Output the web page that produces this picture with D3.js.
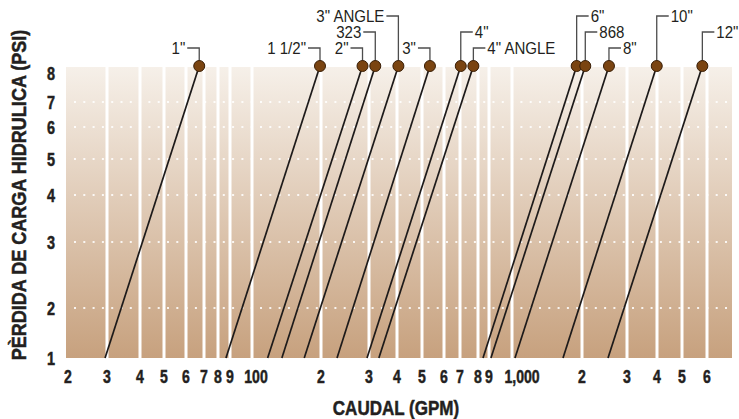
<!DOCTYPE html>
<html>
<head>
<meta charset="utf-8">
<script src="https://cdn.jsdelivr.net/npm/d3@7"></script>
<style>
  body { margin: 0; background: #fff; }
  text { font-family: "Liberation Sans", Arial, sans-serif; }
</style>
</head>
<body>
<div id="chart"></div>
<script>
// valve sizes and flow (GPM) read at 1 psi and 8 psi
var sizes = ['1"', '1 1/2"', '2"', '323', '3" ANGLE', '3"', '4"', '4" ANGLE', '6"', '868', '8"', '10"', '12"'];
var flowAt1 = [29.4, 86.5, 117, 135, 169, 229, 295, 332, 844, 908, 1030, 1657, 2528];
var flowAt8 = [67.2, 198, 284, 320, 405, 534, 704, 773, 1897, 2060, 2550, 3990, 5800];

var xTicks = [20, 30, 40, 50, 60, 70, 80, 90, 100, 200, 300, 400, 500, 600, 700, 800, 900, 1000, 2000, 3000, 4000, 5000, 6000];
var xTickLabels = ['2', '3', '4', '5', '6', '7', '8', '9', '100', '2', '3', '4', '5', '6', '7', '8', '9', '1,000', '2', '3', '4', '5', '6'];
var yTicks = [1, 2, 3, 4, 5, 6, 7, 8];

// label placement: tier (0 = highest) and side of the leader
var labelTier = [2, 2, 2, 1, 0, 2, 1, 2, 0, 1, 2, 0, 1];
var labelSide = ['l', 'l', 'l', 'l', 'l', 'l', 'r', 'r', 'r', 'r', 'r', 'r', 'r'];

var W = 739, H = 419;
var plot = { left: 66, right: 732, top: 67, bottom: 358 };
var ink = '#231f20';

var svg = d3.select('#chart').append('svg')
    .attr('width', W)
    .attr('height', H);

// squeeze text horizontally, no narrow font is available
function condense(sel, k) {
  sel.each(function() {
    var w = this.getComputedTextLength();
    d3.select(this).attr('textLength', w * k).attr('lengthAdjust', 'spacingAndGlyphs');
  });
}

// the printed axis is not a clean log scale, so it is mapped piece by piece
var x = d3.scaleLog()
    .domain(xTicks)
    .range([68, 107, 140, 164, 186, 204, 218, 230, 252, 321, 369, 397, 422, 444, 460, 478, 489, 512, 582, 627, 657, 682, 707]);

var y = d3.scaleLog()
    .domain(yTicks)
    .range([358, 308, 242, 195, 159, 127, 102, 66]);

var grad = svg.append('defs').append('linearGradient')
    .attr('id', 'bg')
    .attr('x1', 0).attr('y1', 0).attr('x2', 0).attr('y2', 1);
grad.append('stop').attr('offset', '0%').attr('stop-color', '#f6f0e9');
grad.append('stop').attr('offset', '100%').attr('stop-color', '#c7a17e');

svg.append('rect')
    .attr('x', plot.left)
    .attr('y', plot.top)
    .attr('width', plot.right - plot.left)
    .attr('height', plot.bottom - plot.top)
    .attr('fill', 'url(#bg)');

// dotted horizontal grid
svg.selectAll('line.hgrid').data(yTicks.slice(1, -1))
  .enter().append('line')
    .attr('class', 'hgrid')
    .attr('x1', plot.left + 8).attr('x2', plot.right)
    .attr('y1', function(d) { return y(d); })
    .attr('y2', function(d) { return y(d); })
    .attr('stroke', '#fff')
    .attr('stroke-opacity', 0.85)
    .attr('stroke-width', 2)
    .attr('stroke-dasharray', '2,7.3');

// white vertical grid
svg.selectAll('line.vgrid').data(xTicks.slice(1))
  .enter().append('line')
    .attr('class', 'vgrid')
    .attr('x1', function(d) { return x(d); })
    .attr('x2', function(d) { return x(d); })
    .attr('y1', plot.top).attr('y2', plot.bottom)
    .attr('stroke', '#fff')
    .attr('stroke-width', 3);

// x tick labels
var xLabelShift = { '100': 4, '1,000': 10 };
svg.selectAll('text.xt').data(xTicks)
  .enter().append('text')
    .attr('class', 'xt')
    .attr('x', function(d, i) { return x(d) + (xLabelShift[xTickLabels[i]] || 0); })
    .attr('y', 383)
    .attr('text-anchor', 'middle')
    .attr('font-size', 18.5)
    .attr('font-weight', 'bold')
    .attr('fill', ink)
    .attr('stroke', ink)
    .attr('stroke-width', 0.5)
    .text(function(d, i) { return xTickLabels[i]; })
    .call(condense, 0.76);

// y tick labels
svg.selectAll('text.yt').data(yTicks)
  .enter().append('text')
    .attr('class', 'yt')
    .attr('x', 55)
    .attr('y', function(d) { return Math.max(y(d), plot.top + 6); })
    .attr('dy', '0.36em')
    .attr('text-anchor', 'end')
    .attr('font-size', 18.5)
    .attr('font-weight', 'bold')
    .attr('fill', ink)
    .attr('stroke', ink)
    .attr('stroke-width', 0.5)
    .text(function(d) { return d; })
    .call(condense, 0.78);

// axis titles
svg.append('text')
    .attr('x', 396)
    .attr('y', 415)
    .attr('text-anchor', 'middle')
    .attr('font-size', 20.5)
    .attr('font-weight', 'bold')
    .attr('fill', ink)
    .attr('stroke', ink)
    .attr('stroke-width', 0.5)
    .text('CAUDAL (GPM)')
    .call(condense, 0.83);

svg.append('text')
    .attr('transform', 'translate(26,195) rotate(-90)')
    .attr('text-anchor', 'middle')
    .attr('font-size', 20.5)
    .attr('font-weight', 'bold')
    .attr('fill', ink)
    .attr('stroke', ink)
    .attr('stroke-width', 0.5)
    .text('PÈRDIDA DE CARGA HIDRULICA (PSI)')
    .call(condense, 0.88);

var valves = sizes.map(function(s, i) {
  return { name: s, lo: flowAt1[i], hi: flowAt8[i], tier: labelTier[i], side: labelSide[i] };
});

// loss curves
svg.selectAll('line.curve').data(valves)
  .enter().append('line')
    .attr('class', 'curve')
    .attr('x1', function(d) { return x(d.lo); })
    .attr('y1', y(1))
    .attr('x2', function(d) { return x(d.hi); })
    .attr('y2', y(8))
    .attr('stroke', '#1d1a1a')
    .attr('stroke-width', 1.7);

// leaders and labels
var tierY = [16, 32, 48];
var lead = 12;

svg.selectAll('path.leader').data(valves)
  .enter().append('path')
    .attr('class', 'leader')
    .attr('d', function(d) {
      var cx = x(d.hi), ty = tierY[d.tier];
      var ex = d.side === 'l' ? cx - lead : cx + lead;
      return ['M', cx, y(8), 'L', cx, ty, 'L', ex, ty].join(' ');
    })
    .attr('fill', 'none')
    .attr('stroke', '#4d4d4d')
    .attr('stroke-width', 1.3);

svg.selectAll('text.lab').data(valves)
  .enter().append('text')
    .attr('class', 'lab')
    .attr('x', function(d) { return d.side === 'l' ? x(d.hi) - lead - 2 : x(d.hi) + lead + 2; })
    .attr('y', function(d) { return tierY[d.tier]; })
    .attr('dy', '0.36em')
    .attr('text-anchor', function(d) { return d.side === 'l' ? 'end' : 'start'; })
    .attr('font-size', 16)
    .attr('fill', ink)
    .text(function(d) { return d.name; })
    .call(condense, 0.94);

svg.selectAll('circle.dot').data(valves)
  .enter().append('circle')
    .attr('class', 'dot')
    .attr('cx', function(d) { return x(d.hi); })
    .attr('cy', y(8))
    .attr('r', 5.5)
    .attr('fill', '#7a4411')
    .attr('stroke', '#3a1f07')
    .attr('stroke-width', 1);
</script>
</body>
</html>
